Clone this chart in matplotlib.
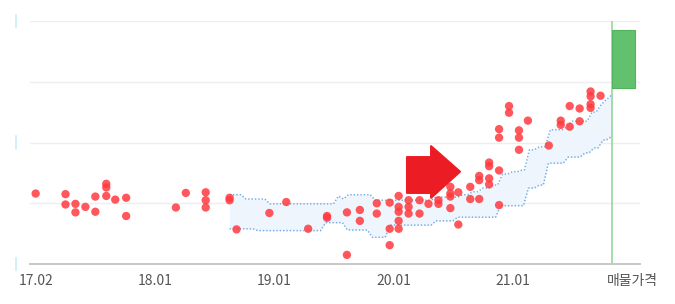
import numpy as np
import matplotlib
matplotlib.use("Agg")
import matplotlib.pyplot as plt
from matplotlib.patches import Polygon
from matplotlib.transforms import blended_transform_factory

plt.rcParams['font.family'] = ['Noto Sans CJK KR', 'DejaVu Sans']

# ---- data (x: months since start, y: price units) ----
tick_pos = [0, 12, 24, 36, 48, 60]
tick_labels = ["17.02", "18.01", "19.01", "20.01", "21.01", "매물가격"]

point_month = [0.0, 3.0, 3.0, 4.0, 4.0, 5.0, 6.0, 6.0, 7.1, 7.1, 7.1, 8.0, 9.1, 9.1,
               14.1, 15.1, 17.1, 17.1, 17.1, 19.5, 19.5, 20.2, 23.5, 25.2, 27.4,
               29.3, 29.3, 31.3, 31.3, 32.6, 32.6, 34.3, 34.3, 35.6, 35.6, 35.6,
               36.5, 36.5, 36.5, 36.5, 36.5, 37.5, 37.5, 37.5, 38.6, 38.6, 39.5,
               40.5, 40.5, 41.7, 41.7, 41.7, 41.7, 42.5, 42.5, 43.7, 43.7,
               44.6, 44.6, 44.6, 45.6, 45.6, 45.6, 45.6, 46.6, 46.6, 46.6, 46.6,
               47.6, 47.6, 48.6, 48.6, 48.6, 49.5, 51.6, 52.8, 52.8, 53.7, 53.7,
               54.7, 54.7, 55.8, 55.8, 55.8, 55.8, 56.8]
point_value = [1.16, 1.15, 0.98, 0.99, 0.85, 0.94, 1.11, 0.86, 1.32, 1.26, 1.12, 1.06, 1.09, 0.79,
               0.93, 1.17, 1.18, 1.05, 0.93, 1.09, 1.05, 0.57, 0.84, 1.02, 0.58,
               0.79, 0.76, 0.85, 0.15, 0.89, 0.71, 1.00, 0.83, 1.01, 0.58, 0.31,
               1.12, 0.94, 0.86, 0.71, 0.58, 1.05, 0.94, 0.83, 1.05, 0.83, 0.99,
               1.05, 0.99, 1.27, 1.16, 1.11, 0.92, 1.18, 0.65, 1.27, 1.07,
               1.45, 1.38, 1.07, 1.67, 1.61, 1.41, 1.31, 1.54, 0.97, 2.22, 2.08,
               2.60, 2.49, 2.20, 2.08, 1.88, 2.36, 1.95, 2.36, 2.29, 2.60, 2.26,
               2.56, 2.35, 2.84, 2.76, 2.63, 2.57, 2.77]

upper_month = [19.5, 20.9, 23.3, 30.2, 30.7, 31.2, 33.9, 40.0, 42.7, 43.7, 44.7, 45.7,
               46.7, 47.7, 48.7, 49.4, 50.4, 51.5, 53.2, 53.7, 55.7, 56.6, 57.1, 57.6, 58.0]
upper_value = [1.14, 1.07, 0.99, 1.12, 1.07, 1.14, 1.05, 1.10, 1.14, 1.19, 1.25, 1.30,
               1.48, 1.52, 1.55, 1.88, 1.93, 2.21, 2.26, 2.35, 2.50, 2.62, 2.70, 2.77, 2.77]
lower_month = [19.5, 22.1, 28.9, 31.1, 33.6, 35.4, 40.0, 42.2, 46.5, 49.3, 50.4, 51.3,
               53.3, 55.0, 55.9, 56.8, 57.6, 58.0]
lower_value = [0.58, 0.55, 0.68, 0.56, 0.44, 0.64, 0.71, 0.77, 0.96, 1.25, 1.30, 1.66,
               1.76, 1.83, 1.91, 2.04, 2.09, 2.09]

listing_month = 58.0
listing_low = 2.90
listing_high = 3.85
listing_width = 2.3

# ---- figure ----
W, H = 675, 304
fig = plt.figure(figsize=(W / 100, H / 100), dpi=100)
ax = fig.add_axes([30 / W, (H - 264) / H, 610 / W, 243 / H])
ax.set_xlim(-0.57, 60.77)
ax.set_ylim(0, 4)

for s in ["top", "right", "left"]:
    ax.spines[s].set_visible(False)
ax.spines["bottom"].set_color("#c8c8c8")
ax.spines["bottom"].set_linewidth(1.4)

for g in [1, 2, 3, 4]:
    ax.axhline(g, color="#eeeeee", lw=1, zorder=0)

ax.set_yticks([])
ax.set_xticks(tick_pos)
ax.set_xticklabels(tick_labels, fontsize=10, color="#555555")
ax.tick_params(axis="x", length=0, pad=7)

# small cyan marks at left (y-axis remnants)
tr = blended_transform_factory(ax.transAxes, ax.transData)
for yv in [4, 2, 0]:
    ax.plot([-0.0235, -0.0235], [yv - 0.1, yv + 0.1], color="#c9eef7", lw=1.2,
            transform=tr, clip_on=False)

# band: step outline with slightly slanted transitions
RAMP = 0.25

def ramp_path(xs, ys):
    px, py = [xs[0]], [ys[0]]
    for i in range(1, len(xs)):
        if i == len(xs) - 1:
            px.append(xs[i]); py.append(ys[i - 1])
        else:
            px += [xs[i] - RAMP, xs[i] + RAMP]
            py += [ys[i - 1], ys[i]]
    return np.array(px), np.array(py)

ux, uy = ramp_path(upper_month, upper_value)
lx, ly = ramp_path(lower_month, lower_value)
grid = np.unique(np.concatenate([ux, lx]))
up_i = np.interp(grid, ux, uy)
lo_i = np.interp(grid, lx, ly)
ax.fill_between(grid, lo_i, up_i, color="#eef5fd", zorder=1, lw=0)
dot = (0, (0.9, 1.3))
ax.plot(ux, uy, color="#74acea", lw=1.1, linestyle=dot, zorder=2)
ax.plot(lx, ly, color="#74acea", lw=1.1, linestyle=dot, zorder=2)

# scatter
ax.scatter(point_month, point_value, s=36, color="#ff3a3f", alpha=0.85,
           edgecolors="none", zorder=3)

# listing price marker
ax.axvline(listing_month, color="#8fd492", lw=1.1, zorder=2)
ax.bar([listing_month], [listing_high - listing_low], bottom=[listing_low],
       width=listing_width, align="edge", color="#62c16c", edgecolor="#52b35c",
       lw=0.8, zorder=3)

# red arrow (annotation)
ax_x0, ax_x1, ax_tip = 37.34, 39.76, 42.67
sh_top, sh_bot = 1.76, 1.17
hd_top, hd_bot, tip_y = 1.94, 1.09, 1.52
arrow = Polygon([(ax_x0, sh_bot), (ax_x0, sh_top), (ax_x1, sh_top), (ax_x1, hd_top),
                 (ax_tip, tip_y), (ax_x1, hd_bot), (ax_x1, sh_bot)],
                closed=True, facecolor="#ec1c24", edgecolor="#ec1c24", lw=1.5,
                joinstyle="round", zorder=5)
ax.add_patch(arrow)

fig.savefig("out.png", dpi=100)
